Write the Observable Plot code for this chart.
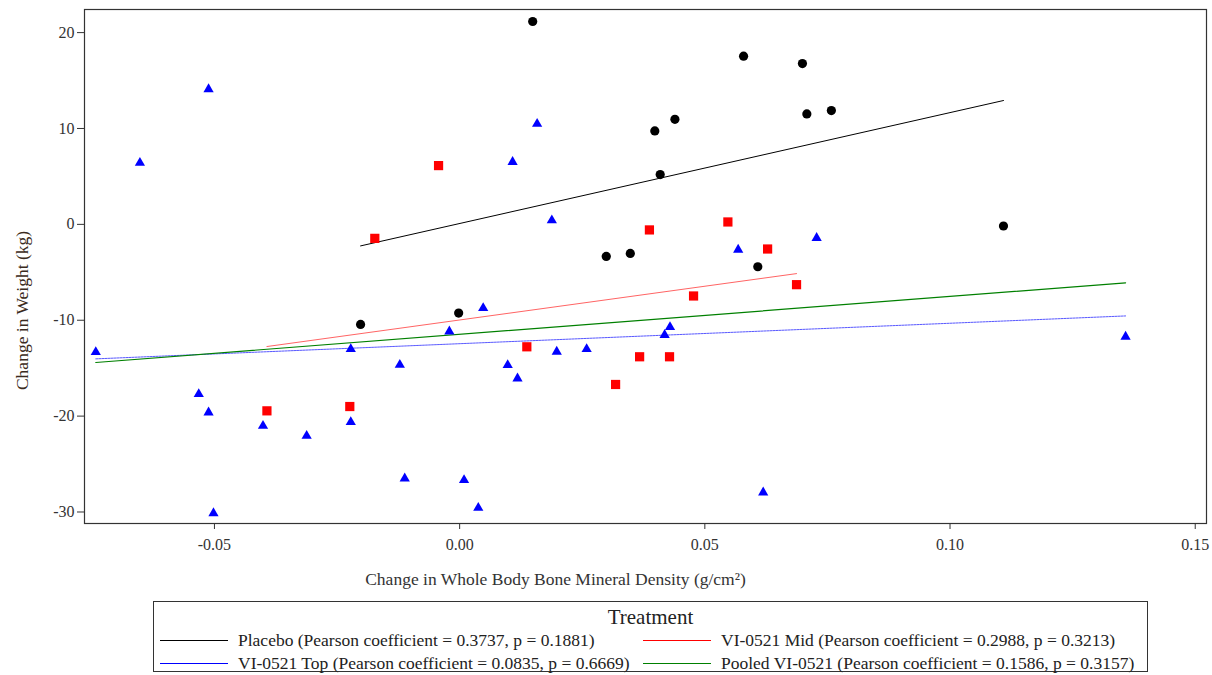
<!DOCTYPE html>
<html><head><meta charset="utf-8">
<script src="https://cdn.jsdelivr.net/npm/d3@7"></script>
<script src="https://cdn.jsdelivr.net/npm/@observablehq/plot@0.6"></script>
<style>
body{margin:0;background:#fff;font-family:'Liberation Serif',serif;color:#222;}
#chart{position:absolute;left:0;top:0;}
#legend{position:absolute;left:153px;top:601px;width:995px;height:71px;border:1px solid #333;box-sizing:border-box;}
#legend .title{position:absolute;left:0;right:0;top:2px;text-align:center;font-size:21px;line-height:26px;}
.item{position:absolute;display:flex;align-items:center;font-size:17.5px;white-space:nowrap;height:22px;}
.item .sw{width:68px;height:1px;margin-right:10px;}
</style>
</head><body>
<div id="chart"></div>
<div id="legend"></div>
<script>
// Placebo (black circles)
const placeboX = [0.0149, 0.0579, 0.0699, 0.0758, 0.0708, 0.0439, 0.0398, 0.0409, 0.1109, 0.0299, 0.0348, 0.0608, -0.0002, -0.0202];
const placeboY = [21.16, 17.54, 16.77, 11.87, 11.52, 10.96, 9.75, 5.19, -0.17, -3.34, -3.03, -4.42, -9.25, -10.44];
// VI-0521 Mid (red squares)
const midX = [-0.0043, -0.0173, 0.0547, 0.0387, 0.0628, 0.0477, 0.0687, 0.0137, 0.0367, 0.0428, 0.0318, -0.0393, -0.0224];
const midY = [6.13, -1.46, 0.25, -0.58, -2.57, -7.47, -6.29, -12.77, -13.81, -13.81, -16.70, -19.45, -19.00];
// VI-0521 Top (blue triangles)
const topDoseX = [-0.0652, -0.0512, 0.0158, 0.0108, 0.0188, 0.0568, 0.0728, -0.0742, -0.0532, -0.0512, -0.0401, -0.0312, -0.0222, -0.0222, -0.0122, -0.0112, -0.0502, 0.0048, -0.0021, 0.0098, 0.0118, 0.0198, 0.0259, 0.0429, 0.0418, 0.0009, 0.0038, 0.0619, 0.1358];
const topDoseY = [6.41, 14.09, 10.48, 6.51, 0.42, -2.64, -1.42, -13.32, -17.70, -19.62, -21.01, -22.06, -13.01, -20.63, -14.65, -26.51, -30.13, -8.73, -11.17, -14.68, -16.08, -13.29, -13.01, -10.71, -11.54, -26.68, -29.57, -27.97, -11.72];

const xTicks = [-0.05, 0, 0.05, 0.10, 0.15];
const yTicks = [-30, -20, -10, 0, 10, 20];
const xLabel = "Change in Whole Body Bone Mineral Density (g/cm²)";
const yLabel = "Change in Weight (kg)";
const legendTitle = "Treatment";
const legendItems = [
  {label: "Placebo (Pearson coefficient = 0.3737, p = 0.1881)", color: "#000000"},
  {label: "VI-0521 Mid (Pearson coefficient = 0.2988, p = 0.3213)", color: "#ff0000"},
  {label: "VI-0521 Top (Pearson coefficient = 0.0835, p = 0.6669)", color: "#0000ff"},
  {label: "Pooled VI-0521 (Pearson coefficient = 0.1586, p = 0.3157)", color: "#008000"}
];

const toRows = (xs, ys) => xs.map((x, i) => ({x, y: ys[i]}));
const placeboRows = toRows(placeboX, placeboY);
const midRows = toRows(midX, midY);
const topRows = toRows(topDoseX, topDoseY);
const pooledRows = midRows.concat(topRows);

const chart = Plot.plot({
  width: 1212,
  height: 592,
  marginLeft: 84,
  marginRight: 6,
  marginTop: 9,
  marginBottom: 69,
  style: {fontFamily: "'Liberation Serif', serif", color: "#333", background: "#fff"},
  x: {domain: [-0.0765, 0.1523]},
  y: {domain: [-31.2, 22.41]},
  marks: [
    Plot.frame({stroke: "#333", strokeWidth: 1.2}),
    Plot.axisX({ticks: xTicks, tickFormat: d => d.toFixed(2), tickSize: 6, tickPadding: 9, fontSize: 16, label: null, stroke: "#333"}),
    Plot.axisY({ticks: yTicks, tickFormat: d => String(d), tickSize: 7, tickPadding: 3, fontSize: 16, label: null, stroke: "#333"}),
    Plot.text([xLabel], {frameAnchor: "bottom", dx: -90, dy: 56, lineAnchor: "middle", textAnchor: "middle", fontSize: 17.5, fill: "#333"}),
    Plot.text([yLabel], {frameAnchor: "left", rotate: -90, dx: -62, dy: 44, textAnchor: "middle", lineAnchor: "middle", fontSize: 17.5, fill: "#3a2a20"}),
    Plot.linearRegressionY(placeboRows, {x: "x", y: "y", ci: 0, stroke: "#000", strokeWidth: 1}),
    Plot.linearRegressionY(midRows, {x: "x", y: "y", ci: 0, stroke: "#ff3030", strokeWidth: 1, strokeOpacity: 0.75}),
    Plot.linearRegressionY(topRows, {x: "x", y: "y", ci: 0, stroke: "#2020ff", strokeWidth: 1, strokeOpacity: 0.75, strokeDasharray: "2,1"}),
    Plot.linearRegressionY(pooledRows, {x: "x", y: "y", ci: 0, stroke: "#008000", strokeWidth: 1.2}),
    Plot.dot(placeboRows, {x: "x", y: "y", symbol: "circle", r: 4.6, fill: "#000", stroke: "none"}),
    Plot.dot(midRows, {x: "x", y: "y", symbol: "square", r: 5.2, fill: "#ff0000", stroke: "none"}),
    Plot.dot(topRows, {x: "x", y: "y", symbol: "triangle", r: 3.8, fill: "#0000ff", stroke: "none"})
  ]
});
document.getElementById("chart").appendChild(chart);

const lg = document.getElementById("legend");
const t = document.createElement("div");
t.className = "title"; t.textContent = legendTitle; lg.appendChild(t);
const pos = [[6, 38], [489, 38], [6, 61], [489, 61]];
legendItems.forEach((it, i) => {
  const d = document.createElement("div");
  d.className = "item";
  d.style.left = pos[i][0] + "px";
  d.style.top = (pos[i][1] - 11) + "px";
  const sw = document.createElement("span");
  sw.className = "sw"; sw.style.background = it.color;
  const tx = document.createElement("span");
  tx.textContent = it.label;
  d.appendChild(sw); d.appendChild(tx);
  lg.appendChild(d);
});
</script>
</body></html>
